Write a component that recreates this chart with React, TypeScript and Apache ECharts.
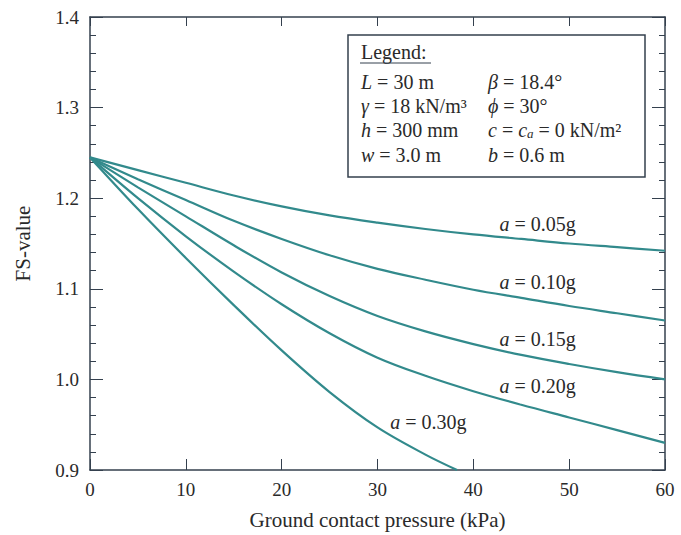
import React, { useEffect, useRef } from "react";
import * as echarts from "echarts";

const pressure = [0, 5, 10, 15, 20, 25, 30, 35, 40, 45, 50, 55, 60];
const fs005 = [1.245, 1.231, 1.217, 1.203, 1.191, 1.181, 1.173, 1.166, 1.16, 1.155, 1.15, 1.146, 1.142];
const fs010 = [1.245, 1.221, 1.198, 1.175, 1.155, 1.137, 1.122, 1.11, 1.099, 1.09, 1.081, 1.073, 1.065];
const fs015 = [1.245, 1.212, 1.18, 1.148, 1.118, 1.092, 1.07, 1.053, 1.039, 1.027, 1.017, 1.008, 1.0];
const fs020 = [1.245, 1.2, 1.158, 1.119, 1.083, 1.051, 1.024, 1.004, 0.987, 0.972, 0.958, 0.944, 0.93];
const pressure030 = [0, 5, 10, 15, 20, 25, 30, 35, 38.3];
const fs030 = [1.245, 1.188, 1.134, 1.082, 1.032, 0.986, 0.947, 0.917, 0.9];

const curveLabels = ["0.05g", "0.10g", "0.15g", "0.20g", "0.30g"];
const labelX = [46.7, 46.7, 46.7, 46.7, 35.3];
const labelY = [1.171, 1.108, 1.045, 0.993, 0.953];

const xTickLabels = ["0", "10", "20", "30", "40", "50", "60"];
const yTickLabels = ["0.9", "1.0", "1.1", "1.2", "1.3", "1.4"];

const FONT = "Liberation Serif";
const LINE = "#328a8c";
const AXIS = "#34404e";
const TEXT = "#2a2a2a";

export default function App() {
  const ref = useRef<HTMLDivElement>(null);
  useEffect(() => {
    if (!ref.current) return;
    const chart = echarts.init(ref.current, null, { renderer: "svg" });
    const series = [fs005, fs010, fs015, fs020, fs030].map((vals, i) => {
      const xs = i === 4 ? pressure030 : pressure;
      return {
        type: "line",
        xAxisIndex: 0,
        yAxisIndex: 0,
        data: xs.map((x, k) => [x, vals[k]]),
        showSymbol: false,
        smooth: 0.35,
        lineStyle: { color: LINE, width: 2.2 },
        itemStyle: { color: LINE },
        silent: true,
        markPoint: {
          symbol: "circle",
          symbolSize: 1,
          itemStyle: { color: "rgba(0,0,0,0)" },
          data: [
            {
              coord: [labelX[i], labelY[i]],
              label: {
                show: true,
                position: "inside",
                formatter: "{i|a} = " + curveLabels[i],
                fontFamily: FONT,
                fontSize: 20,
                color: TEXT,
                rich: { i: { fontStyle: "italic", fontFamily: FONT, fontSize: 20, color: TEXT } },
              },
            },
          ],
        },
      };
    });

    const richLegend = {
      i: { fontStyle: "italic", fontFamily: FONT, fontSize: 20, fill: TEXT },
      sub: { fontStyle: "italic", fontFamily: FONT, fontSize: 13, fill: TEXT, verticalAlign: "bottom", padding: [7, 0, 0, 0] },
    };
    const legendRows = [
      ["{i|L} = 30 m", "{i|β} = 18.4°"],
      ["{i|γ} = 18 kN/m³", "{i|ϕ} = 30°"],
      ["{i|h} = 300 mm", "{i|c} = {i|c}{sub|a} = 0 kN/m²"],
      ["{i|w} = 3.0 m", "{i|b} = 0.6 m"],
    ];
    const rowY = [82, 106, 130, 155];
    const graphicEls: any[] = [
      {
        type: "rect",
        shape: { x: 348, y: 35, width: 297, height: 142 },
        style: { fill: "#fff", stroke: AXIS, lineWidth: 1.5 },
        z: 10,
      },
      {
        type: "text",
        x: 361,
        y: 52,
        style: { text: "Legend:", font: `20px "${FONT}"`, fill: TEXT, verticalAlign: "middle" },
        z: 11,
      },
      {
        type: "line",
        shape: { x1: 360, y1: 63, x2: 431, y2: 63 },
        style: { stroke: AXIS, lineWidth: 1 },
        z: 11,
      },
    ];
    legendRows.forEach((row, r) => {
      row.forEach((t, c) => {
        graphicEls.push({
          type: "text",
          x: c === 0 ? 361 : 488,
          y: rowY[r],
          style: {
            text: t,
            font: `20px "${FONT}"`,
            fill: TEXT,
            verticalAlign: "middle",
            rich: richLegend,
          },
          z: 11,
        });
      });
    });

    const lineOn = { show: true, onZero: false, lineStyle: { color: AXIS, width: 1.5 } };
    const lineOff = { show: false, onZero: false };
    const tick = (len: number) => ({ show: true, inside: true, length: len, lineStyle: { color: AXIS, width: 1 } });
    const xBase = { type: "value", min: 0, max: 60, interval: 10, splitLine: { show: false } };
    const yBase = { type: "value", min: 0.9, max: 1.4, splitLine: { show: false } };

    chart.setOption({
      animation: false,
      backgroundColor: "#fff",
      grid: { left: 90, right: 16, top: 17, bottom: 63 },
      xAxis: [
        {
          ...xBase,
          position: "bottom",
          axisLine: lineOn,
          axisTick: tick(11),
          axisLabel: {
            fontFamily: FONT,
            fontSize: 19,
            color: TEXT,
            margin: 10,
            formatter: (v: number) => xTickLabels[Math.round(v / 10)],
          },
          name: "Ground contact pressure (kPa)",
          nameLocation: "middle",
          nameGap: 39,
          nameTextStyle: { fontFamily: FONT, fontSize: 21, color: TEXT },
        },
        {
          ...xBase,
          position: "top",
          axisLine: lineOn,
          axisTick: tick(9),
          axisLabel: { show: false },
        },
      ],
      yAxis: [
        {
          ...yBase,
          interval: 0.1,
          position: "left",
          axisLine: lineOn,
          axisTick: tick(13),
          axisLabel: {
            fontFamily: FONT,
            fontSize: 19,
            color: TEXT,
            margin: 11,
            formatter: (v: number) => yTickLabels[Math.round((v - 0.9) * 10)],
          },
          name: "FS-value",
          nameLocation: "middle",
          nameGap: 57,
          nameRotate: 90,
          nameTextStyle: { fontFamily: FONT, fontSize: 21, color: TEXT },
        },
        {
          ...yBase,
          interval: 0.1,
          position: "right",
          axisLine: lineOn,
          axisTick: tick(13),
          axisLabel: { show: false },
        },
        {
          ...yBase,
          interval: 0.02,
          position: "left",
          axisLine: lineOff,
          axisTick: tick(6),
          axisLabel: { show: false },
        },
        {
          ...yBase,
          interval: 0.02,
          position: "right",
          axisLine: lineOff,
          axisTick: tick(6),
          axisLabel: { show: false },
        },
      ],
      series,
      graphic: graphicEls,
    });
    return () => chart.dispose();
  }, []);
  return (
    <div
      ref={ref}
      style={{ position: "fixed", left: 0, top: 0, width: 681, height: 535, background: "#fff" }}
    />
  );
}
